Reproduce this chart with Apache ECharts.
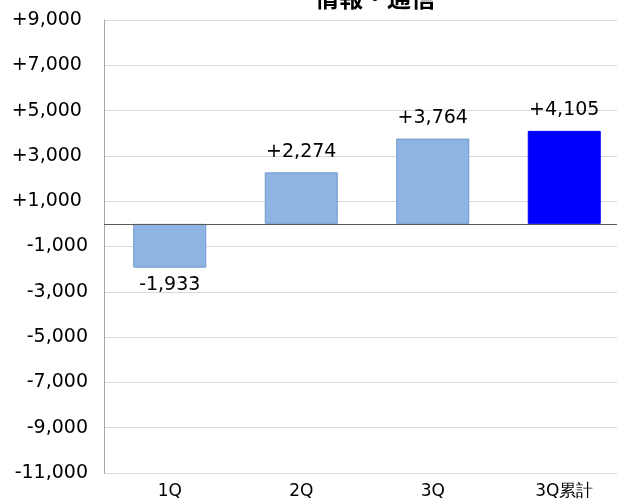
<!DOCTYPE html>
<html>
<head>
<meta charset="utf-8">
<script src="https://cdn.jsdelivr.net/npm/echarts@6/dist/echarts.min.js"></script>
<style>html,body{margin:0;padding:0;background:#fff;overflow:hidden}#c{width:630px;height:500px}</style>
</head>
<body>
<div id="c"></div>
<script>
var categories = ['1Q', '2Q', '3Q', '3Q累計'];
var values = [-1933, 2274, 3764, 4105];
var barColors = ['#8EB4E3', '#8EB4E3', '#8EB4E3', '#0000FF'];
var yMin = -11000, yMax = 9000, yInterval = 2000;

function fmt(v) {
  var s = Math.abs(v).toLocaleString('en-US');
  return v > 0 ? '+' + s : (v < 0 ? '-' + s : '0');
}

var chart = echarts.init(document.getElementById('c'));
chart.setOption({
  animation: false,
  title: {
    text: '情報・通信',
    left: 370, textAlign: 'center', top: -19,
    textStyle: {fontFamily: 'Noto Sans CJK JP', fontWeight: 'bold', fontSize: 24, color: '#000'}
  },
  grid: {left: 104, right: 0, top: 20, bottom: 25, containLabel: false},
  xAxis: {
    type: 'category', data: categories,
    axisLine: {show: false}, axisTick: {show: false},
    axisLabel: {fontFamily: 'DejaVu Sans', fontSize: 17, color: '#000', margin: 10}
  },
  yAxis: {
    type: 'value', min: yMin, max: yMax, interval: yInterval,
    axisLine: {show: true, lineStyle: {color: '#A6A6A6', width: 1}},
    axisTick: {show: false},
    splitLine: {lineStyle: {color: '#D9D9D9', width: 1}},
    axisLabel: {
      fontFamily: 'DejaVu Sans', fontSize: 19, color: '#000', margin: 16,
      formatter: function (v) { return v > 0 ? fmt(v) + ' ' : fmt(v); }
    }
  },
  series: [{
    type: 'bar', barWidth: 73,
    data: values.map(function (v, i) {
      return {
        value: v,
        itemStyle: {color: barColors[i], borderColor: i < 3 ? '#7199CF' : '#0000FF', borderWidth: 1},
        label: {position: v < 0 ? 'bottom' : 'top', distance: v < 0 ? 8 : 11}
      };
    }),
    label: {
      show: true,
      fontFamily: 'DejaVu Sans', fontSize: 19, color: '#000',
      formatter: function (p) { return fmt(p.value); }
    },
    markLine: {
      silent: true, symbol: 'none',
      label: {show: false},
      lineStyle: {color: '#595959', width: 1, type: 'solid'},
      data: [{yAxis: 0}]
    }
  }]
});
</script>
</body>
</html>
